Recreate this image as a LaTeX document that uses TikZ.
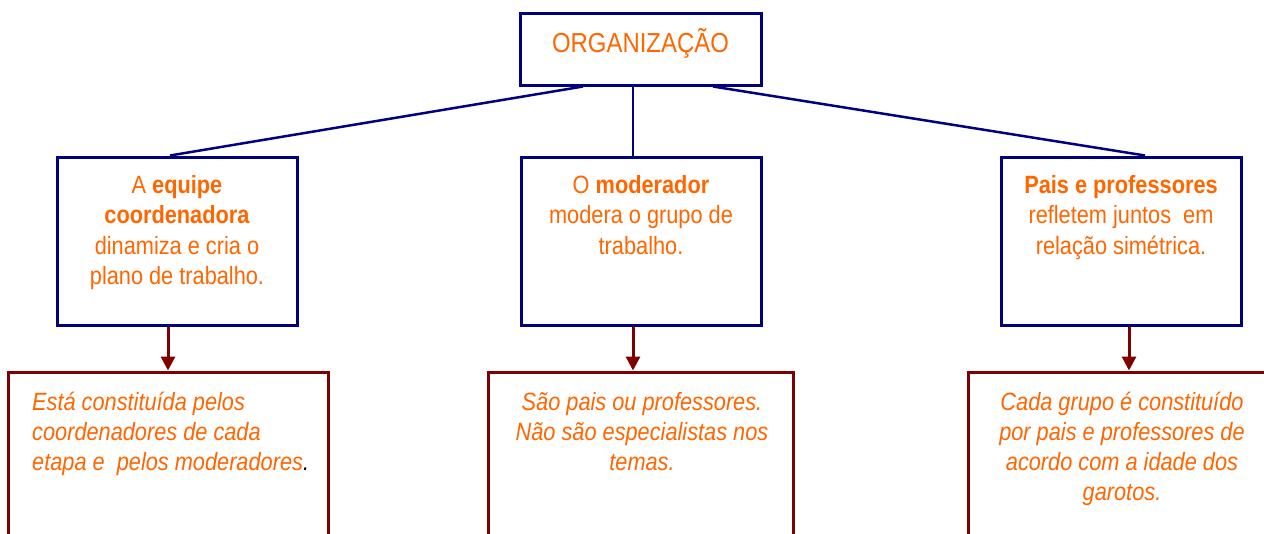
\documentclass[tikz,border=0pt]{standalone}
\usepackage{fontspec}
\setmainfont[FakeStretch=0.87]{Liberation Sans}
\usetikzlibrary{arrows.meta,positioning}
\definecolor{orgtxt}{HTML}{FF6600}
\definecolor{navyline}{HTML}{000080}
\definecolor{wineline}{HTML}{800000}

\begin{document}
\begin{tikzpicture}[
  x=1pt, y=-1pt,
  txt/.style={text=orgtxt, font=\fontsize{25}{30.5}\selectfont, align=center, inner sep=0pt, anchor=base},
  note/.style={txt, font=\fontsize{25}{30}\selectfont\itshape},
  blbox/.style={draw=navyline, line width=3pt, minimum width=240pt, minimum height=168pt, inner sep=0pt},
  rdbox/.style={draw=wineline, line width=3pt, minimum height=188pt, inner sep=0pt},
  link/.style={navyline, line width=2.5pt},
  arr/.style={wineline, line width=3pt, -{Triangle[width=14pt,length=14pt]}}
]
\useasboundingbox (0,0) rectangle (1264,533);
\clip (0,0) rectangle (1264,533);
\fill[white] (0,0) rectangle (1264,533);

% boxes
\node[blbox, minimum width=241pt, minimum height=72pt] (org) at (640.5,49) {};
\node[blbox] (equipe) at (177,241) {};
\node[blbox] (moder) at (641,241) {};
\node[blbox] (pais) at (1121,241) {};
\node[rdbox, minimum width=320pt] (nequipe) at (168,466) {};
\node[rdbox, minimum width=305pt] (nmoder) at (640.5,466) {};
\node[rdbox, minimum width=322pt] (npais) at (1129,466) {};

% texts (anchored at the baseline of the last line)
\node[txt, font=\fontsize{27.5}{33}\selectfont] (torg) at (640.5,52) {ORGANIZAÇÃO};
\node[txt] (tequipe) at (177,284.5) {A \textbf{equipe}\\\textbf{coordenadora}\\dinamiza e cria o\\plano de trabalho.};
\node[txt] (tmoder) at (641,254) {O \textbf{moderador}\\modera o grupo de\\trabalho.};
\node[txt] (tpais) at (1121,254) {\textbf{Pais e professores}\\refletem juntos~ em\\relação simétrica.};
\node[note, align=left, anchor=base west] (tnequipe) at (32,470)
  {Está constituída pelos\\coordenadores de cada\\etapa e~ pelos moderadores{\color{black}.}};
\node[note] (tnmoder) at (642,470) {São pais ou professores.\\Não são especialistas nos\\temas.};
\node[note] (tnpais) at (1122,500) {Cada grupo é constituído\\por pais e professores de\\acordo com a idade dos\\garotos.};

% connectors
\draw[link] ([xshift=-57.5pt]org.south) -- ([xshift=-7pt]equipe.north);
\draw[link] ([xshift=-7.5pt]org.south) -- ([xshift=-7.5pt]org.south |- moder.north);
\draw[link] ([xshift=72.5pt]org.south) -- ([xshift=24pt]pais.north);
\draw[arr] ([xshift=-9pt]equipe.south) -- ([xshift=-9pt]equipe.south |- nequipe.north);
\draw[arr] ([xshift=-8pt]moder.south) -- ([xshift=-8pt]moder.south |- nmoder.north);
\draw[arr] ([xshift=8pt]pais.south) -- ([xshift=8pt]pais.south |- npais.north);
\end{tikzpicture}
\end{document}
